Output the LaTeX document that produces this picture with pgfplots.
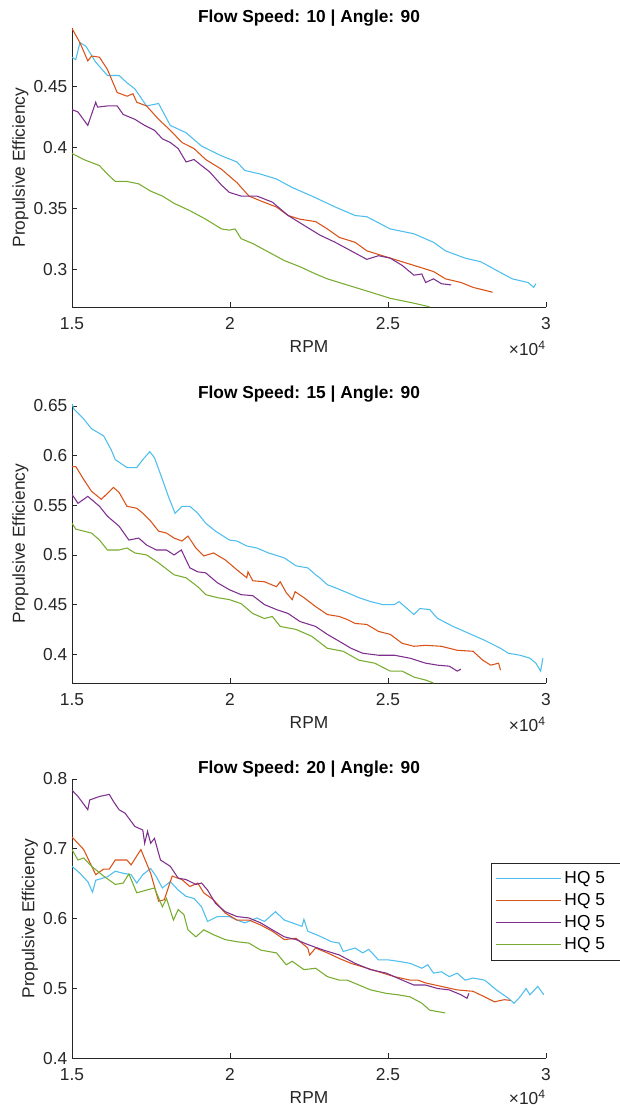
\documentclass[border=0pt]{standalone}
\usepackage{fontspec}
\setmainfont{Liberation Sans}
\usepackage{pgfplots}
\pgfplotsset{compat=1.18}
\definecolor{c1}{HTML}{4DBEEE}
\definecolor{c2}{HTML}{D95319}
\definecolor{c3}{HTML}{7E2F8E}
\definecolor{c4}{HTML}{77AC30}
\definecolor{axgray}{HTML}{262626}
\newcommand{\fs}{\fontsize{13}{15}\selectfont}
\pgfplotsset{
  mat/.style={
    width=355.5pt, height=209.5pt, scale only axis,
    xmin=1.5, xmax=3, xtick={1.5,2,2.5,3},
    axis lines=left, axis line style={-, draw=axgray, line width=0.6pt},
    tick align=inside, major tick length=4pt,
    tick style={axgray, line width=0.6pt},
    ticklabel style={font=\fs, text=axgray},
    xticklabel style={yshift=-4pt},
    label style={font=\fs, text=axgray},
    xlabel style={yshift=-1pt},
    ylabel style={yshift=-3pt},
    title style={font=\bfseries\fs, yshift=-8pt},
    xlabel={RPM}, ylabel={Propulsive Efficiency},
    /pgf/number format/assume math mode=true,
    clip mode=individual,
    every axis plot/.append style={line width=0.8pt},
  },
}
\begin{document}
\begin{tikzpicture}
% ---------- Flow speed 10
\begin{axis}[mat, at={(54pt,-21pt)}, anchor=north west,
  ymin=0.2686, ymax=0.498, ytick={0.3,0.35,0.4,0.45},
  title={Flow Speed: 10 | Angle: 90}]
\addplot[c1] coordinates {(1.500,0.474) (1.512,0.472) (1.525,0.486) (1.544,0.483) (1.575,0.470) (1.612,0.459) (1.649,0.459) (1.674,0.453) (1.699,0.448) (1.736,0.434) (1.774,0.436) (1.811,0.418) (1.861,0.412) (1.910,0.401) (1.973,0.393) (2.022,0.388) (2.047,0.381) (2.097,0.378) (2.147,0.374) (2.197,0.367) (2.259,0.360) (2.333,0.351) (2.396,0.344) (2.433,0.343) (2.507,0.333) (2.582,0.329) (2.644,0.322) (2.682,0.315) (2.744,0.309) (2.794,0.306) (2.843,0.299) (2.893,0.292) (2.943,0.289) (2.961,0.285) (2.968,0.288)};
\addplot[c2] coordinates {(1.500,0.4976) (1.525,0.486) (1.550,0.471) (1.562,0.475) (1.587,0.474) (1.612,0.464) (1.643,0.445) (1.674,0.442) (1.693,0.444) (1.705,0.437) (1.736,0.434) (1.774,0.423) (1.811,0.414) (1.848,0.404) (1.886,0.399) (1.923,0.390) (1.973,0.382) (2.022,0.371) (2.060,0.360) (2.097,0.356) (2.147,0.351) (2.184,0.344) (2.221,0.341) (2.271,0.339) (2.308,0.333) (2.346,0.326) (2.396,0.322) (2.433,0.315) (2.495,0.310) (2.545,0.306) (2.595,0.302) (2.644,0.298) (2.682,0.292) (2.731,0.289) (2.769,0.285) (2.831,0.281)};
\addplot[c3] coordinates {(1.500,0.431) (1.519,0.429) (1.550,0.418) (1.575,0.437) (1.581,0.433) (1.612,0.434) (1.643,0.434) (1.662,0.427) (1.699,0.423) (1.730,0.418) (1.761,0.414) (1.786,0.407) (1.811,0.404) (1.836,0.399) (1.861,0.388) (1.886,0.390) (1.910,0.385) (1.935,0.380) (1.973,0.369) (1.998,0.363) (2.035,0.360) (2.085,0.360) (2.134,0.355) (2.184,0.344) (2.234,0.336) (2.284,0.328) (2.333,0.322) (2.383,0.315) (2.433,0.308) (2.470,0.311) (2.507,0.309) (2.545,0.303) (2.582,0.295) (2.607,0.296) (2.619,0.289) (2.644,0.292) (2.669,0.288) (2.700,0.287)};
\addplot[c4] coordinates {(1.500,0.395) (1.537,0.390) (1.587,0.385) (1.612,0.378) (1.637,0.372) (1.674,0.372) (1.711,0.370) (1.749,0.364) (1.786,0.360) (1.823,0.354) (1.873,0.348) (1.923,0.341) (1.973,0.333) (1.998,0.332) (2.016,0.333) (2.035,0.325) (2.072,0.321) (2.122,0.314) (2.172,0.307) (2.221,0.302) (2.271,0.296) (2.308,0.292) (2.358,0.288) (2.408,0.284) (2.458,0.280) (2.507,0.276) (2.545,0.274) (2.582,0.272) (2.632,0.269)};
\node[anchor=north east, font=\fs, text=axgray, inner sep=0pt] at (rel axis cs:1,0) [yshift=-25pt] {×10\textsuperscript{4}};
\end{axis}
% ---------- Flow speed 15
\begin{axis}[mat, at={(54pt,-303pt)}, anchor=north west,
  ymin=0.3707, ymax=0.652, ytick={0.4,0.45,0.5,0.55,0.6,0.65},
  title={Flow Speed: 15 | Angle: 90}]
\addplot[c1] coordinates {(1.500,0.652) (1.506,0.647) (1.537,0.637) (1.562,0.627) (1.600,0.620) (1.624,0.606) (1.637,0.596) (1.674,0.588) (1.705,0.588) (1.724,0.596) (1.746,0.604) (1.761,0.598) (1.786,0.576) (1.805,0.559) (1.826,0.542) (1.848,0.549) (1.873,0.549) (1.898,0.542) (1.923,0.532) (1.954,0.524) (1.998,0.515) (2.022,0.514) (2.053,0.509) (2.085,0.507) (2.122,0.502) (2.172,0.497) (2.209,0.489) (2.246,0.487) (2.271,0.480) (2.284,0.477) (2.308,0.470) (2.333,0.467) (2.371,0.462) (2.408,0.457) (2.445,0.453) (2.483,0.450) (2.520,0.450) (2.535,0.453) (2.582,0.440) (2.601,0.446) (2.632,0.445) (2.657,0.436) (2.706,0.428) (2.756,0.421) (2.806,0.414) (2.856,0.406) (2.881,0.401) (2.918,0.399) (2.949,0.396) (2.968,0.391) (2.983,0.383) (2.990,0.396)};
\addplot[c2] coordinates {(1.500,0.589) (1.512,0.589) (1.537,0.576) (1.562,0.564) (1.593,0.556) (1.631,0.568) (1.649,0.563) (1.674,0.549) (1.705,0.547) (1.724,0.542) (1.749,0.534) (1.774,0.524) (1.799,0.522) (1.823,0.517) (1.848,0.514) (1.867,0.519) (1.892,0.507) (1.917,0.499) (1.948,0.502) (1.985,0.495) (2.022,0.485) (2.053,0.477) (2.057,0.483) (2.072,0.474) (2.109,0.473) (2.147,0.468) (2.159,0.473) (2.178,0.462) (2.197,0.455) (2.206,0.463) (2.234,0.457) (2.271,0.448) (2.308,0.440) (2.346,0.438) (2.371,0.435) (2.396,0.431) (2.433,0.430) (2.470,0.423) (2.507,0.420) (2.545,0.411) (2.582,0.408) (2.619,0.409) (2.669,0.408) (2.719,0.404) (2.769,0.403) (2.800,0.394) (2.825,0.389) (2.850,0.391) (2.856,0.384)};
\addplot[c3] coordinates {(1.500,0.561) (1.519,0.552) (1.550,0.559) (1.587,0.549) (1.612,0.539) (1.649,0.529) (1.680,0.515) (1.711,0.517) (1.736,0.510) (1.767,0.505) (1.799,0.505) (1.823,0.500) (1.846,0.505) (1.873,0.487) (1.898,0.483) (1.923,0.482) (1.960,0.472) (1.998,0.465) (2.035,0.460) (2.072,0.459) (2.109,0.450) (2.147,0.445) (2.184,0.441) (2.221,0.433) (2.271,0.428) (2.308,0.420) (2.346,0.413) (2.383,0.406) (2.420,0.401) (2.470,0.399) (2.520,0.399) (2.570,0.396) (2.619,0.391) (2.657,0.389) (2.694,0.388) (2.719,0.383) (2.731,0.385)};
\addplot[c4] coordinates {(1.500,0.532) (1.512,0.526) (1.562,0.522) (1.587,0.515) (1.612,0.505) (1.649,0.505) (1.674,0.507) (1.699,0.502) (1.736,0.500) (1.774,0.492) (1.823,0.480) (1.861,0.477) (1.898,0.468) (1.923,0.460) (1.960,0.457) (1.998,0.455) (2.035,0.451) (2.072,0.441) (2.109,0.436) (2.134,0.438) (2.159,0.428) (2.209,0.425) (2.259,0.418) (2.308,0.406) (2.358,0.403) (2.408,0.394) (2.458,0.391) (2.507,0.383) (2.545,0.383) (2.582,0.377) (2.619,0.374) (2.644,0.371)};
\node[anchor=north east, font=\fs, text=axgray, inner sep=0pt] at (rel axis cs:1,0) [yshift=-25pt] {×10\textsuperscript{4}};
\end{axis}
% ---------- Flow speed 20
\begin{axis}[mat, at={(54pt,-584.25pt)}, anchor=north west,
  ymin=0.4, ymax=0.8, ytick={0.4,0.5,0.6,0.7,0.8},
  title={Flow Speed: 20 | Angle: 90},
  legend style={at={(0.884,0.699)}, anchor=north west, draw=axgray, line width=0.6pt,
    font=\fs, row sep=2pt, inner xsep=3pt, inner ysep=4pt},
  legend cell align=left,
  legend image code/.code={\draw[#1] (0pt,0pt) -- (49pt,0pt);}]
\addplot[c1] coordinates {(1.500,0.675) (1.525,0.665) (1.550,0.653) (1.565,0.638) (1.575,0.655) (1.612,0.660) (1.637,0.668) (1.662,0.665) (1.687,0.663) (1.705,0.651) (1.724,0.663) (1.749,0.672) (1.767,0.660) (1.786,0.644) (1.811,0.653) (1.836,0.641) (1.861,0.632) (1.886,0.629) (1.910,0.617) (1.929,0.596) (1.960,0.603) (1.998,0.603) (2.022,0.598) (2.047,0.594) (2.085,0.601) (2.109,0.596) (2.144,0.610) (2.172,0.598) (2.197,0.594) (2.228,0.589) (2.234,0.599) (2.246,0.582) (2.284,0.575) (2.321,0.567) (2.346,0.565) (2.358,0.553) (2.396,0.558) (2.420,0.551) (2.439,0.556) (2.470,0.541) (2.501,0.541) (2.532,0.539) (2.570,0.536) (2.607,0.529) (2.626,0.534) (2.644,0.522) (2.669,0.524) (2.694,0.517) (2.719,0.522) (2.744,0.512) (2.769,0.515) (2.806,0.512) (2.843,0.498) (2.881,0.486) (2.899,0.479) (2.918,0.488) (2.937,0.500) (2.949,0.491) (2.974,0.503) (2.993,0.491)};
\addplot[c2] coordinates {(1.500,0.717) (1.537,0.699) (1.575,0.663) (1.600,0.671) (1.618,0.671) (1.637,0.684) (1.674,0.684) (1.687,0.677) (1.718,0.699) (1.749,0.665) (1.774,0.625) (1.792,0.627) (1.817,0.661) (1.848,0.656) (1.873,0.646) (1.898,0.651) (1.917,0.637) (1.948,0.627) (1.985,0.608) (2.022,0.598) (2.060,0.598) (2.097,0.591) (2.134,0.582) (2.172,0.570) (2.209,0.572) (2.246,0.558) (2.252,0.548) (2.271,0.558) (2.308,0.551) (2.346,0.543) (2.383,0.536) (2.420,0.531) (2.470,0.524) (2.520,0.517) (2.570,0.512) (2.595,0.512) (2.619,0.508) (2.669,0.503) (2.719,0.498) (2.769,0.496) (2.806,0.488) (2.837,0.481) (2.868,0.484) (2.887,0.483)};
\addplot[c3] coordinates {(1.500,0.784) (1.519,0.775) (1.550,0.756) (1.556,0.770) (1.587,0.775) (1.618,0.778) (1.631,0.768) (1.649,0.756) (1.668,0.751) (1.699,0.732) (1.724,0.727) (1.730,0.708) (1.739,0.725) (1.749,0.708) (1.761,0.715) (1.780,0.684) (1.811,0.675) (1.836,0.658) (1.861,0.656) (1.892,0.649) (1.910,0.651) (1.929,0.641) (1.954,0.622) (1.985,0.610) (2.022,0.603) (2.060,0.601) (2.097,0.594) (2.134,0.584) (2.172,0.574) (2.209,0.570) (2.246,0.563) (2.296,0.555) (2.346,0.548) (2.396,0.536) (2.445,0.527) (2.495,0.522) (2.545,0.512) (2.582,0.505) (2.619,0.505) (2.657,0.500) (2.694,0.498) (2.731,0.491) (2.750,0.486) (2.756,0.493)};
\addplot[c4] coordinates {(1.500,0.699) (1.519,0.684) (1.537,0.687) (1.562,0.675) (1.600,0.661) (1.637,0.649) (1.662,0.651) (1.680,0.664) (1.705,0.637) (1.736,0.641) (1.761,0.644) (1.786,0.617) (1.799,0.629) (1.821,0.598) (1.836,0.613) (1.854,0.606) (1.867,0.584) (1.892,0.574) (1.917,0.584) (1.948,0.577) (1.985,0.570) (2.022,0.567) (2.060,0.565) (2.097,0.555) (2.147,0.551) (2.178,0.534) (2.197,0.539) (2.234,0.527) (2.271,0.529) (2.308,0.517) (2.346,0.512) (2.371,0.512) (2.408,0.505) (2.445,0.498) (2.495,0.493) (2.532,0.491) (2.570,0.488) (2.607,0.479) (2.632,0.469) (2.657,0.467) (2.681,0.465)};
\legend{HQ 5\hspace*{30pt},HQ 5\hspace*{30pt},HQ 5\hspace*{30pt},HQ 5\hspace*{30pt}}
\node[anchor=north east, font=\fs, text=axgray, inner sep=0pt] at (rel axis cs:1,0) [yshift=-24pt] {×10\textsuperscript{4}};
\end{axis}
\pgfresetboundingbox
\useasboundingbox (0pt,0pt) rectangle (464.25pt,-832.5pt);
\end{tikzpicture}
\end{document}
